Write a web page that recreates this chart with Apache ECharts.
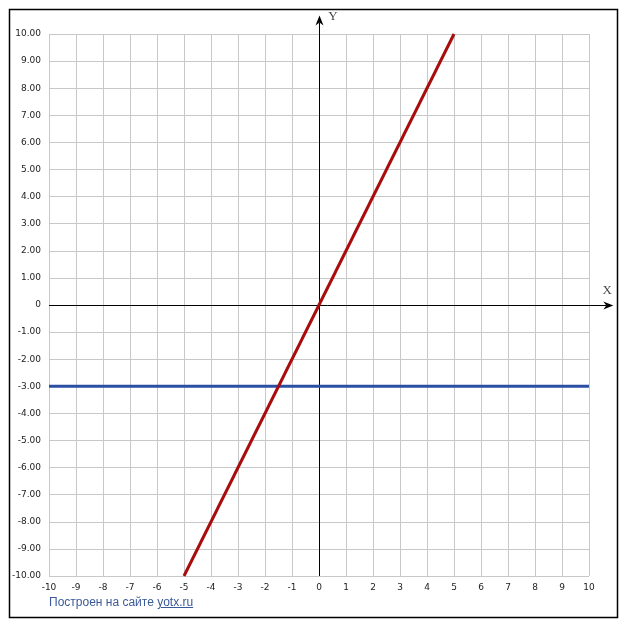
<!DOCTYPE html>
<html>
<head>
<meta charset="utf-8">
<script src="https://cdn.jsdelivr.net/npm/echarts@6/dist/echarts.min.js"></script>
<style>
html,body{margin:0;padding:0;background:#fff;}
#c{width:627px;height:630px;position:relative;}
#foot{position:absolute;left:49px;top:595px;font-family:"Liberation Sans",Arial,sans-serif;font-size:12px;color:#3b5998;}
#foot span{text-decoration:underline;}
</style>
</head>
<body>
<div id="c"></div>
<div id="foot">Построен на сайте <span>yotx.ru</span></div>
<script>
// Data
var xTicks = [-10,-9,-8,-7,-6,-5,-4,-3,-2,-1,0,1,2,3,4,5,6,7,8,9,10];
var yTicks = [-10,-9,-8,-7,-6,-5,-4,-3,-2,-1,0,1,2,3,4,5,6,7,8,9,10];
var redLine = [[-5,-10],[5,10]];        // y = 2x
var blueLine = [[-10,-3],[10,-3]];      // y = -3
// axis arrows: [start, tip] in data units
var axisArrows = [[-10,0,10.9,0],[0,-10,0,10.68]];
var axisNames = [{name:'X', value:[10.67,0.55]},{name:'Y', value:[0.52,10.66]}];

var chart = echarts.init(document.getElementById('c'), null, {renderer:'canvas'});
var labelFont = {fontFamily:'"DejaVu Sans",Verdana,sans-serif', fontSize:9, color:'#222'};

function renderArrow(params, api){
  var p0 = api.coord([api.value(0), api.value(1)]);
  var p1 = api.coord([api.value(2), api.value(3)]);
  var dx = p1[0]-p0[0], dy = p1[1]-p0[1];
  var len = Math.sqrt(dx*dx+dy*dy); var ux = dx/len, uy = dy/len;
  var nx = -uy, ny = ux;
  var L = 10, W = 4, N = 7;
  var back = [p1[0]-ux*L, p1[1]-uy*L];
  var notch = [p1[0]-ux*N, p1[1]-uy*N];
  var snap = function(v){return Math.round(v)+0.5;};
  var lineShape = Math.abs(dx) > Math.abs(dy)
    ? {x1:p0[0], y1:snap(p0[1]), x2:notch[0], y2:snap(p1[1])}
    : {x1:snap(p0[0]), y1:p0[1], x2:snap(p1[0]), y2:notch[1]};
  var off = Math.abs(dx) > Math.abs(dy) ? [0, snap(p1[1])-p1[1]] : [snap(p1[0])-p1[0], 0];
  return {type:'group', children:[
    {type:'line', shape:lineShape, style:{stroke:'#000', lineWidth:1}},
    {type:'polygon', shape:{points:[
      [p1[0]+off[0], p1[1]+off[1]],
      [back[0]+nx*W+off[0], back[1]+ny*W+off[1]],
      [notch[0]+off[0], notch[1]+off[1]],
      [back[0]-nx*W+off[0], back[1]-ny*W+off[1]]
    ]}, style:{fill:'#000'}}
  ]};
}

chart.setOption({
  animation:false,
  grid:{left:49, top:34, width:540, height:542, containLabel:false},
  xAxis:{type:'value', min:-10, max:10, interval:1,
    axisLine:{show:false}, axisTick:{show:false},
    axisLabel:Object.assign({margin:7, formatter:function(v){return String(v);}}, labelFont),
    splitLine:{lineStyle:{color:'#c8c8c8', width:1}}},
  yAxis:{type:'value', min:-10, max:10, interval:1,
    axisLine:{show:false}, axisTick:{show:false},
    axisLabel:Object.assign({margin:8, formatter:function(v){return v===0?'0':v.toFixed(2);}}, labelFont),
    splitLine:{lineStyle:{color:'#c8c8c8', width:1}}},
  graphic:[{type:'rect', shape:{x:9.5,y:9.5,width:608,height:608}, style:{fill:'none', stroke:'#000', lineWidth:1.5}, silent:true}],
  series:[
    {type:'custom', data:axisArrows, renderItem:renderArrow, clip:false, silent:true, z:3},
    {type:'line', data:blueLine, symbol:'none', lineStyle:{color:'#2b4fa3', width:3}, z:5},
    {type:'line', data:redLine, symbol:'none', lineStyle:{color:'#a80c0c', width:3}, z:6},
    {type:'scatter', data:axisNames, symbolSize:0, clip:false,
      label:{show:true, formatter:'{b}', position:'inside', fontFamily:'"Liberation Serif","Times New Roman",serif', fontSize:13, color:'#111'}}
  ]
});
</script>
</body>
</html>
